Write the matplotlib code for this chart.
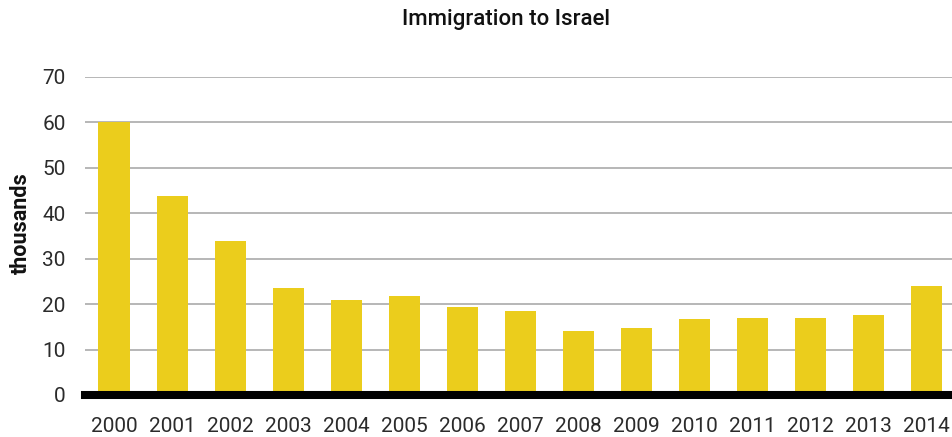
import matplotlib
matplotlib.use("Agg")
import matplotlib.pyplot as plt

years = ["2000", "2001", "2002", "2003", "2004", "2005", "2006", "2007",
         "2008", "2009", "2010", "2011", "2012", "2013", "2014"]
immigrants = [60.1, 43.7, 34.0, 23.6, 20.9, 21.8, 19.4, 18.5,
              14.1, 14.8, 16.8, 17.0, 17.0, 17.6, 24.0]
yticks = [0, 10, 20, 30, 40, 50, 60, 70]

plt.rcParams["font.family"] = ["Roboto", "DejaVu Sans"]

W, H = 952, 437
fig = plt.figure(figsize=(W / 100, H / 100), dpi=100)
left, right = 85, 955.5
bottom, top = 395, 77
ax = fig.add_axes([left / W, (H - bottom) / H, (right - left) / W, (bottom - top) / H])

x = list(range(len(years)))
ax.bar(x, immigrants, width=0.535, color="#EBCD1C", zorder=2)

ax.set_xlim(-0.5, len(years) - 0.5)
ax.set_ylim(0, 70)
ax.set_yticks(yticks)
ax.set_yticklabels([str(t) for t in yticks], fontsize=15, color="#2b2b2b")
ax.set_xticks(x)
ax.set_xticklabels(years, fontsize=15, color="#2b2b2b")
ax.tick_params(axis="both", length=0)
ax.tick_params(axis="y", pad=14)
ax.tick_params(axis="x", pad=16)

for t in yticks[1:]:
    ax.axhline(t, color="#aaaaaa", linewidth=1.2, zorder=1)
ax.axhline(0, color="black", linewidth=5.8, zorder=3, clip_on=False)

for s in ax.spines.values():
    s.set_visible(False)

ax.set_ylabel("thousands", fontsize=15.5, color="#111111", fontweight="bold")
ax.yaxis.set_label_coords((10 - left) / (right - left), 0.542)
ax.yaxis.label.set_va("top")
fig.text(505.5 / W, 1 - 19 / H, "Immigration to Israel", ha="center", va="center",
         fontsize=16, color="#111111", fontweight="medium")

fig.savefig("out.png", dpi=100)
